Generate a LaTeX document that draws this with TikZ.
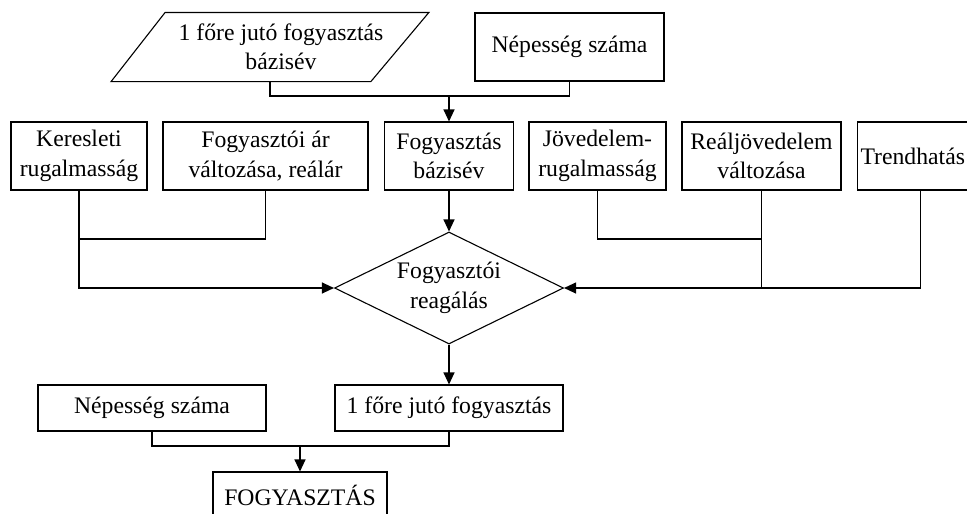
\documentclass[tikz,border=0pt]{standalone}
\usepackage{fontspec}
\setmainfont{Liberation Serif}
\usetikzlibrary{shapes.geometric,arrows.meta}

\tikzset{
	flowbox/.style={draw, rectangle, inner sep=0pt, minimum height=68pt, align=center},
	lowbox/.style={draw, rectangle, inner sep=0pt, minimum height=46pt, align=center},
	decision/.style={draw, diamond, inner sep=0pt, aspect=2, minimum width=229pt, minimum height=112pt, align=center},
	arr/.style={-{Triangle[length=12pt,width=11pt]}},
}

\begin{document}
\begin{tikzpicture}[x=1pt, y=-1pt, line width=1.1pt, font=\fontsize{23.7}{29.5}\selectfont]
				\path[use as bounding box, clip] (0,0) rectangle (967,514);
				
				% Top row
				\node[inner sep=0pt, minimum width=192pt, minimum height=68pt, align=center] (alap) at (281,47) {1 főre jutó fogyasztás\\bázisév};
				\draw ([xshift=-13pt]alap.north west) -- ([xshift=45pt]alap.north east) -- ([xshift=-13pt]alap.south east) -- ([xshift=-67pt]alap.south west) -- cycle; % parallelogram
				\node[flowbox, minimum width=189pt] (nepes) at (569.5,47) {Népesség száma};
				
				% Second row
				\node[flowbox, minimum width=136pt] (kereslet) at (79,156) {Keresleti\\rugalmasság};
				\node[flowbox, minimum width=205pt] (arvalt) at (265.5,156) {Fogyasztói ár\\változása, reálár};
				\node[flowbox, minimum width=129pt] (bazis) at (449,156) {Fogyasztás\\bázisév};
				\node[flowbox, minimum width=137pt] (jovrug) at (597.5,156) {Jövedelem-\\rugalmasság};
				\node[flowbox, minimum width=159pt] (realjov) at (761.5,156) {Reáljövedelem\\változása};
				\node[flowbox, anchor=west, inner xsep=3pt, text width=125pt, align=left] (trend) at (857,156) {Trendhatás};
				
				% Decision
				\node[decision] (reakcio) at (449,288) {Fogyasztói\\reagálás};
				
				% Bottom rows
				\node[lowbox, minimum width=228pt] (nepes2) at (152,408) {Népesség száma};
				\node[lowbox, minimum width=228pt] (fofogy) at (449,408) {1 főre jutó fogyasztás};
				\node[lowbox, minimum width=174pt] (ossz) at (300,495) {FOGYASZTÁS};
				
				% Join points
				\coordinate (felso) at (449,96);
				\coordinate (balkoz) at (79,239);
				\coordinate (jobbkoz) at (761.5,239);
				\coordinate (also) at (300,446);
				
				% Connectors
				\draw ([xshift=-11pt]alap.south) |- (felso) -| (nepes.south);
				\draw[arr] (felso) -- (bazis.north);
				\draw (arvalt.south) |- (balkoz);
				\draw[arr] (kereslet.south) |- (reakcio.west);
				\draw[arr] (bazis.south) -- (reakcio.north);
				\draw (jovrug.south) |- (jobbkoz);
				\draw (realjov.south) -- (realjov.south |- reakcio.east);
				\draw[arr] ([xshift=-3pt]trend.south) |- (reakcio.east);
				\draw[arr] (reakcio.south) -- (fofogy.north);
				\draw (nepes2.south) |- (also) -| (fofogy.south);
				\draw[arr] (also) -- (ossz.north);
			\end{tikzpicture}
\end{document}
